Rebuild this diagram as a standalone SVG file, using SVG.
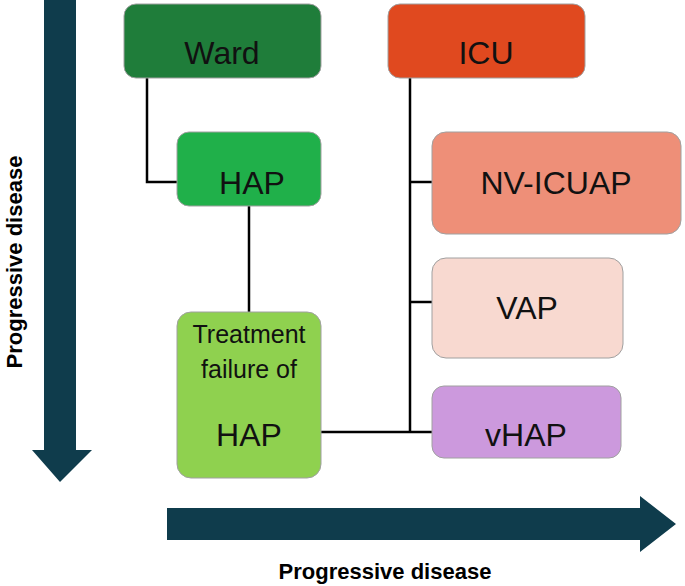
<svg xmlns="http://www.w3.org/2000/svg" width="685" height="586" viewBox="0 0 685 586">
<style>
.n{stroke:#a0a0a0;stroke-width:1}
.t{font-family:"Liberation Sans",Arial,sans-serif;font-size:32px;text-anchor:middle;fill:#111}
.l{stroke:#000;stroke-width:2.5;fill:none}
.a{fill:#0f3c4c}
.p{font-family:"Liberation Sans",Arial,sans-serif;font-size:22px;font-weight:bold;text-anchor:middle;fill:#000}
</style>
<rect width="685" height="586" fill="#fff"/>
<g id="arrows">
<polygon class="a" points="44,0 76,0 76,450 92,450 60,482 32,450 44,450"/>
<polygon class="a" points="167,508 640,508 640,496 676,524 640,552 640,540 167,540"/>
<text class="p" transform="translate(22,262) rotate(-90)">Progressive disease</text>
<text class="p" x="385" y="579">Progressive disease</text>
</g>
<g id="connectors">
<polyline class="l" points="147,78 147,182 177,182"/>
<line class="l" x1="249" y1="206" x2="249" y2="312"/>
<line class="l" x1="410" y1="78" x2="410" y2="432"/>
<line class="l" x1="410" y1="182" x2="432" y2="182"/>
<line class="l" x1="410" y1="302" x2="432" y2="302"/>
<line class="l" x1="321" y1="432" x2="432" y2="432"/>
</g>
<g id="ward"><rect class="n" x="124" y="4" width="197" height="74" rx="12" fill="#1f7d3a"/><text class="t" x="222" y="64">Ward</text></g>
<g id="icu"><rect class="n" x="388" y="4" width="197" height="74" rx="12" fill="#e0491f"/><text class="t" x="486" y="64">ICU</text></g>
<g id="hap"><rect class="n" x="177" y="132" width="144" height="74" rx="12" fill="#20b04a"/><text class="t" x="252" y="194">HAP</text></g>
<g id="tf"><rect class="n" x="177" y="312" width="144" height="166" rx="14" fill="#8fd14f"/>
<text class="t" x="249" y="343" style="font-size:25px">Treatment</text>
<text class="t" x="249" y="378" style="font-size:25px">failure of</text>
<text class="t" x="249" y="446">HAP</text></g>
<g id="nv"><rect class="n" x="432" y="132" width="249" height="102" rx="14" fill="#ee8f78"/><text class="t" x="556" y="194">NV-ICUAP</text></g>
<g id="vap"><rect class="n" x="432" y="258" width="191" height="100" rx="14" fill="#f8d9d0"/><text class="t" x="527" y="319">VAP</text></g>
<g id="vhap"><rect class="n" x="432" y="386" width="189" height="72" rx="12" fill="#cc99dd"/><text class="t" x="526" y="446">vHAP</text></g>
</svg>
